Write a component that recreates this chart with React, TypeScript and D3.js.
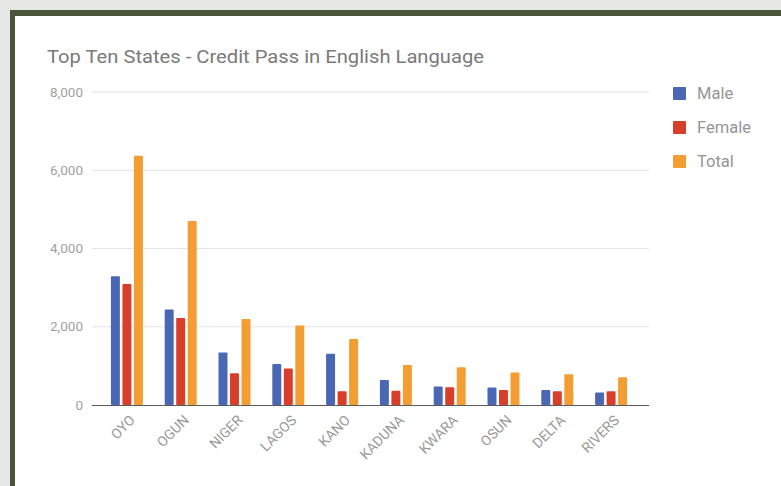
import React from "react";
import * as d3 from "d3";

const states = ["OYO", "OGUN", "NIGER", "LAGOS", "KANO", "KADUNA", "KWARA", "OSUN", "DELTA", "RIVERS"];
const male = [3290, 2440, 1340, 1050, 1310, 640, 470, 445, 385, 320];
const female = [3095, 2225, 810, 930, 350, 365, 455, 385, 350, 350];
const total = [6370, 4700, 2195, 2035, 1690, 1025, 965, 830, 785, 710];
const seriesNames = ["Male", "Female", "Total"];
const seriesColors = ["#4a67b3", "#d83f2a", "#f39d32"];
const yTicks = [0, 2000, 4000, 6000, 8000];
const title = "Top Ten States - Credit Pass in English Language";

export default function App() {
  const W = 781, H = 486;
  const series = [male, female, total];
  const x = d3.scaleBand<string>().domain(states).range([100, 638]).paddingInner(0).paddingOuter(0);
  const y = d3.scaleLinear().domain([0, 8000]).range([405, 92]);
  const inner = d3.scaleBand<number>().domain([0, 1, 2]).range([-16, 16]).paddingInner(0.22);
  const fmt = d3.format(",");
  const font = "Roboto, 'Noto Sans', sans-serif";

  return (
    <svg width={W} height={H} style={{ position: "absolute", left: 0, top: 0 }} fontFamily={font}>
      <rect x={0} y={0} width={W} height={H} fill="#e7e7e5" />
      <rect x={10} y={10} width={W - 10} height={H - 10} fill="#485539" />
      <rect x={15} y={16} width={W - 15} height={H - 16} fill="#ffffff" />
      <text x={47} y={63} fontSize={18.5} fill="#7a7a7a" textLength={437} lengthAdjust="spacingAndGlyphs">{title}</text>
      {yTicks.map((t) => (
        <g key={t}>
          {t !== 0 && <line x1={92} x2={649} y1={y(t)} y2={y(t)} stroke="#e4e4e4" strokeWidth={1} />}
          <text x={83} y={y(t)} dy="0.35em" textAnchor="end" fontSize={13.5} fill="#9f9f9f">{fmt(t)}</text>
        </g>
      ))}
      {states.map((s, i) => (
        <g key={s} transform={`translate(${(x(s) as number) + x.bandwidth() / 2},0)`}>
          {series.map((vals, k) => (
            <rect key={k} x={inner(k) as number} width={inner.bandwidth()} y={y(vals[i])}
              height={y(0) - y(vals[i])} fill={seriesColors[k]} rx={1} />
          ))}
          <text transform={`translate(9,421) rotate(-45)`} textAnchor="end" fontSize={14} fill="#9a9a9a">{s}</text>
        </g>
      ))}
      <line x1={92} x2={649} y1={405.5} y2={405.5} stroke="#5a5a5a" strokeWidth={1.2} />
      {seriesNames.map((n, k) => (
        <g key={n} transform={`translate(673,${87 + k * 34})`}>
          <rect x={0} y={0} width={13} height={13} fill={seriesColors[k]} rx={1} />
          <text x={24} y={6.5} dy="0.35em" fontSize={16.5} fill="#959595">{n}</text>
        </g>
      ))}
    </svg>
  );
}
